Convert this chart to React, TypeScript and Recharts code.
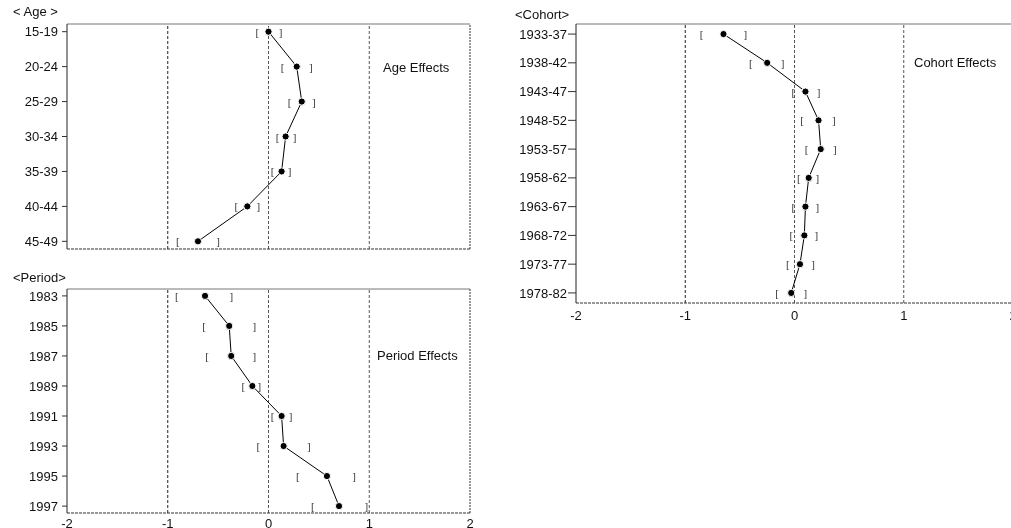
import React from "react";
import { ScatterChart, Scatter, XAxis, YAxis, ReferenceLine } from "recharts";

const ageLabels = ["15-19", "20-24", "25-29", "30-34", "35-39", "40-44", "45-49"];
const ageEst = [0.0, 0.28, 0.33, 0.17, 0.13, -0.21, -0.7];
const ageLo = [-0.11, 0.14, 0.21, 0.09, 0.04, -0.32, -0.9];
const ageHi = [0.12, 0.42, 0.45, 0.26, 0.21, -0.1, -0.5];

const periodLabels = ["1983", "1985", "1987", "1989", "1991", "1993", "1995", "1997"];
const periodEst = [-0.63, -0.39, -0.37, -0.16, 0.13, 0.15, 0.58, 0.7];
const periodLo = [-0.91, -0.64, -0.61, -0.25, 0.04, -0.1, 0.29, 0.44];
const periodHi = [-0.37, -0.14, -0.14, -0.09, 0.22, 0.4, 0.85, 0.97];

const cohortLabels = ["1933-37", "1938-42", "1943-47", "1948-52", "1953-57", "1958-62", "1963-67", "1968-72", "1973-77", "1978-82"];
const cohortEst = [-0.65, -0.25, 0.1, 0.22, 0.24, 0.13, 0.1, 0.09, 0.05, -0.03];
const cohortLo = [-0.85, -0.4, -0.01, 0.07, 0.11, 0.04, -0.01, -0.03, -0.06, -0.16];
const cohortHi = [-0.45, -0.11, 0.22, 0.36, 0.37, 0.21, 0.21, 0.2, 0.17, 0.1];

const xTicks = [-2, -1, 0, 1, 2];
const font = "'Liberation Sans', Arial, Helvetica, sans-serif";
const serif = "'Liberation Serif', 'DejaVu Serif', serif";

interface PanelProps {
  labels: string[];
  est: number[];
  lo: number[];
  hi: number[];
  width: number;
  height: number;
  margin: { top: number; right: number; bottom: number; left: number };
  pad: number;
  yTickSize: number;
  yTickMargin: number;
  showX: boolean;
  xHeight: number;
  xTickMargin: number;
}

const Dot = (p: any) => <circle cx={p.cx} cy={p.cy} r={3.6} fill="#000" stroke="#fff" strokeWidth={1} />;
const OpenB = (p: any) => (
  <text x={p.cx} y={p.cy + 4} textAnchor="middle" fontSize={11} fontFamily={serif} fill="#333">[</text>
);
const CloseB = (p: any) => (
  <text x={p.cx} y={p.cy + 4} textAnchor="middle" fontSize={11} fontFamily={serif} fill="#333">]</text>
);

function Panel(props: PanelProps) {
  const { labels, est, lo, hi, pad } = props;
  const n = labels.length;
  const pts = est.map((v, i) => ({ x: v, y: i }));
  const los = lo.map((v, i) => ({ x: v, y: i }));
  const his = hi.map((v, i) => ({ x: v, y: i }));
  const yMin = -pad;
  const yMax = n - 1 + pad;
  return (
    <ScatterChart width={props.width} height={props.height} margin={props.margin}>
      <XAxis
        type="number"
        dataKey="x"
        domain={[-2, 2]}
        ticks={xTicks}
        height={props.xHeight}
        tick={props.showX ? { fill: "#111", fontSize: 13, fontFamily: font } : false}
        tickLine={false}
        tickMargin={props.xTickMargin}
        axisLine={{ stroke: "#333", strokeDasharray: "3 1" }}
      />
      <YAxis
        type="number"
        dataKey="y"
        domain={[yMin, yMax]}
        reversed
        ticks={labels.map((_, i) => i)}
        interval={0}
        tickFormatter={(v: number) => labels[v] ?? ""}
        width={60}
        tick={{ fill: "#111", fontSize: 13, fontFamily: font }}
        tickSize={props.yTickSize}
        tickMargin={props.yTickMargin}
        tickLine={{ stroke: "#333" }}
        axisLine={{ stroke: "#222" }}
      />
      <ReferenceLine y={yMin} stroke="#777" />
      <ReferenceLine x={2} stroke="#333" strokeDasharray="2 1" />
      <ReferenceLine x={-1} stroke="#222" strokeDasharray="3 2" />
      <ReferenceLine x={0} stroke="#555" strokeDasharray="3 2" />
      <ReferenceLine x={1} stroke="#555" strokeDasharray="3 2" />
      <Scatter data={los} shape={OpenB} isAnimationActive={false} />
      <Scatter data={his} shape={CloseB} isAnimationActive={false} />
      <Scatter data={pts} shape={Dot} line={{ stroke: "#000", strokeWidth: 1 }} isAnimationActive={false} />
    </ScatterChart>
  );
}

const txt = (left: number, top: number, s: string) => (
  <div style={{ position: "absolute", left, top, fontFamily: font, fontSize: 13, lineHeight: "16px", color: "#111", whiteSpace: "nowrap" }}>{s}</div>
);

export default function App() {
  return (
    <div style={{ position: "fixed", left: 0, top: 0, width: 1011, height: 528, background: "#fff", overflow: "hidden", filter: "grayscale(1)" }}>
      <div style={{ position: "absolute", left: 0, top: 0 }}>
        <Panel
          labels={ageLabels} est={ageEst} lo={ageLo} hi={ageHi}
          width={480} height={260}
          margin={{ top: 24, right: 10, bottom: 10, left: 7 }}
          pad={0.22} yTickSize={5} yTickMargin={4}
          showX={false} xHeight={1} xTickMargin={0}
        />
      </div>
      <div style={{ position: "absolute", left: 0, top: 265 }}>
        <Panel
          labels={periodLabels} est={periodEst} lo={periodLo} hi={periodHi}
          width={480} height={263}
          margin={{ top: 24, right: 10, bottom: 0, left: 7 }}
          pad={0.23} yTickSize={5} yTickMargin={4}
          showX={true} xHeight={15} xTickMargin={0}
        />
      </div>
      <div style={{ position: "absolute", left: 500, top: 0 }}>
        <Panel
          labels={cohortLabels} est={cohortEst} lo={cohortLo} hi={cohortHi}
          width={520} height={330}
          margin={{ top: 24, right: 7, bottom: 0, left: 16 }}
          pad={0.35} yTickSize={8} yTickMargin={1}
          showX={true} xHeight={27} xTickMargin={2}
        />
      </div>
      {txt(13, 4, "< Age >")}
      {txt(383, 60, "Age Effects")}
      {txt(13, 270, "<Period>")}
      {txt(377, 348, "Period Effects")}
      {txt(515, 7, "<Cohort>")}
      {txt(914, 55, "Cohort Effects")}
    </div>
  );
}
